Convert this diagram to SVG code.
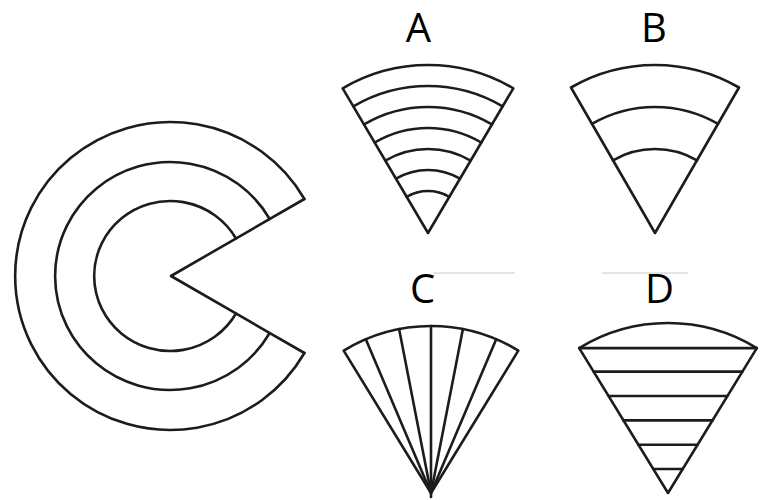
<svg xmlns="http://www.w3.org/2000/svg" width="763" height="500" viewBox="0 0 763 500">
<style>
.s{fill:none;stroke:#1c1c1c;stroke-width:2.6;stroke-linejoin:round;stroke-linecap:round}
.lbl{font-family:"Open Sans","Liberation Sans",sans-serif;font-size:40px;fill:#000;text-anchor:middle}
.faint{stroke:#dcdcdc;stroke-width:1.5}
</style>
<rect width="763" height="500" fill="#fff"/>
<g id="rings">
<path class="s" d="M304.4 199 A155 154 0 1 0 304.4 353"/>
<path class="s" d="M269.7 219 A115 114 0 1 0 269.7 333"/>
<path class="s" d="M236 238.5 A76 75 0 1 0 236 313.5"/>
<path class="s" d="M304.4 199 L171 276 L304.4 353"/>
</g>
<g id="fanA">
<text class="lbl" x="418.5" y="42">A</text>
<path class="s" d="M342.7 88.3 A168 168 0 0 1 513.3 88.3 L428 233 Z"/>
<path class="s" d="M353.4 106.3 A147 147 0 0 1 502.6 106.3"/>
<path class="s" d="M364.1 124.4 A126 126 0 0 1 491.9 124.4"/>
<path class="s" d="M374.7 142.5 A105 105 0 0 1 481.3 142.5"/>
<path class="s" d="M385.4 160.6 A84 84 0 0 1 470.6 160.6"/>
<path class="s" d="M396 178.7 A63 63 0 0 1 460 178.7"/>
<path class="s" d="M406.7 196.8 A42 42 0 0 1 449.3 196.8"/>
</g>
<g id="fanB">
<text class="lbl" x="654" y="42">B</text>
<path class="s" d="M571 87.5 A168 168 0 0 1 739 87.5 L655 233 Z"/>
<path class="s" d="M592 123.9 A126 126 0 0 1 718 123.9"/>
<path class="s" d="M613 160.3 A84 84 0 0 1 697 160.3"/>
</g>
<g id="fanC">
<line class="faint" x1="433" y1="273" x2="515" y2="273"/>
<text class="lbl" x="422.5" y="303">C</text>
<path class="s" d="M343.7 350.6 A167 167 0 0 1 518.3 350.6 L431 493 Z"/>
<path class="s" d="M365.8 339.3 L431 493 L496.2 339.3"/>
<path class="s" d="M399.1 329.1 L431 493 L462.9 329.1"/>
<path class="s" d="M431 326 L431 497"/>
</g>
<g id="fanD">
<line class="faint" x1="602" y1="273" x2="688" y2="273"/>
<text class="lbl" x="659.5" y="303">D</text>
<path class="s" d="M579.2 348.1 A170 170 0 0 1 756.8 348.1 L668 493 Z"/>
<path class="s" d="M579.2 348.1 H756.8"/>
<path class="s" d="M593.6 371.6 H742.4"/>
<path class="s" d="M608.6 396 H727.4"/>
<path class="s" d="M623.5 420.4 H712.5"/>
<path class="s" d="M638.4 444.7 H697.6"/>
<path class="s" d="M653.3 469 H682.7"/>
</g>
</svg>
